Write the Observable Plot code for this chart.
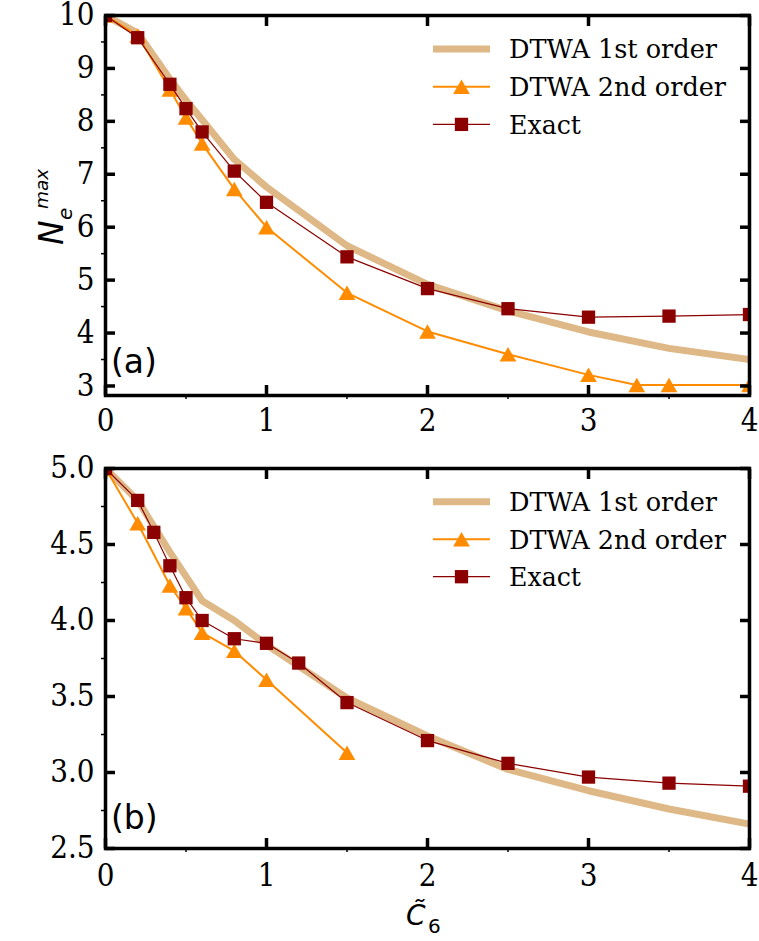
<!DOCTYPE html>
<html><head><meta charset="utf-8">
<script src="https://cdn.jsdelivr.net/npm/d3@7"></script>
<script src="https://cdn.jsdelivr.net/npm/@observablehq/plot@0.6"></script>
<style>
body{margin:0;background:#fff;}
#chart{position:relative;width:759px;height:941px;}
#chart svg{display:block;overflow:visible;}
</style></head><body><div id="chart"></div>
<script>
// ---- data: panel (a) N_e^max ----
const x_a_dtwa1 = [0, 0.2, 0.4, 0.5, 0.6, 0.8, 1.0, 1.5, 2.0, 2.5, 3.0, 3.5, 4.0];
const y_a_dtwa1 = [10, 9.67, 8.8, 8.4, 8.03, 7.28, 6.76, 5.65, 4.92, 4.42, 4.02, 3.71, 3.5];
const x_a_dtwa2 = [0, 0.2, 0.4, 0.5, 0.6, 0.8, 1.0, 1.5, 2.0, 2.5, 3.0, 3.3, 3.5, 4.0];
const y_a_dtwa2 = [10, 9.62, 8.6, 8.07, 7.58, 6.72, 6.0, 4.76, 4.03, 3.6, 3.21, 3.02, 3.02, 3.02];
const x_a_exact = [0, 0.2, 0.4, 0.5, 0.6, 0.8, 1.0, 1.5, 2.0, 2.5, 3.0, 3.5, 4.0];
const y_a_exact = [10, 9.58, 8.70, 8.24, 7.80, 7.06, 6.47, 5.44, 4.84, 4.46, 4.30, 4.32, 4.35];
// ---- data: panel (b) N_e^avg ----
const x_b_dtwa1 = [0, 0.2, 0.3, 0.4, 0.5, 0.6, 0.8, 1.0, 1.2, 1.5, 2.0, 2.5, 3.0, 3.5, 4.0];
const y_b_dtwa1 = [5.0, 4.79, 4.62, 4.45, 4.29, 4.13, 4.0, 3.84, 3.70, 3.49, 3.24, 3.02, 2.88, 2.76, 2.66];
const x_b_dtwa2 = [0, 0.2, 0.4, 0.5, 0.6, 0.8, 1.0, 1.5];
const y_b_dtwa2 = [5.0, 4.64, 4.23, 4.08, 3.92, 3.80, 3.61, 3.13];
const x_b_exact = [0, 0.2, 0.3, 0.4, 0.5, 0.6, 0.8, 1.0, 1.2, 1.5, 2.0, 2.5, 3.0, 3.5, 4.0];
const y_b_exact = [5.0, 4.79, 4.58, 4.36, 4.15, 4.0, 3.88, 3.85, 3.72, 3.46, 3.21, 3.06, 2.97, 2.93, 2.91];
// ---- ticks & labels ----
const xTicks = [0, 1, 2, 3, 4];
const xMinorTicks = [0.5, 1.5, 2.5, 3.5];
const yTicksA = [3, 4, 5, 6, 7, 8, 9, 10];
const yMinorA = [3.5, 4.5, 5.5, 6.5, 7.5, 8.5, 9.5];
const yTicksB = [2.5, 3.0, 3.5, 4.0, 4.5, 5.0];
const yMinorB = [2.75, 3.25, 3.75, 4.25, 4.75];
const seriesNames = ["DTWA 1st order", "DTWA 2nd order", "Exact"];
const legendWidths = [208, 217, 72];
const colors = ["#deb887", "#ff8c00", "#8b0000"];

const SERIF = "'DejaVu Serif Condensed', 'DejaVu Serif', serif";
const SANS = "'DejaVu Sans', sans-serif";
const zip = (xs, ys) => xs.map((x, i) => ({x, y: ys[i]}));
const R_SQ = 7.5, R_TRI = 6.2;

function panel(o) {
  const s1 = zip(o.x1, o.y1), s2 = zip(o.x2, o.y2), s3 = zip(o.x3, o.y3);
  const svg = Plot.plot({
    width: 759, height: o.height,
    marginLeft: 105, marginRight: 10, marginTop: o.mt, marginBottom: o.mb,
    style: {fontFamily: SERIF, fontSize: "31px", background: "white", color: "black"},
    x: {domain: [0, 4]},
    y: {domain: o.yDomain},
    marks: [
      Plot.line(s1, {x: "x", y: "y", stroke: colors[0], strokeWidth: 7, clip: true}),
      Plot.line(s2, {x: "x", y: "y", stroke: colors[1], strokeWidth: 2, clip: true}),
      Plot.dot(s2, {x: "x", y: "y", symbol: "triangle", r: R_TRI, fill: colors[1], dy: 2.4, clip: true}),
      Plot.line(s3, {x: "x", y: "y", stroke: colors[2], strokeWidth: 1.2, clip: true}),
      Plot.dot(s3, {x: "x", y: "y", symbol: "square", r: R_SQ, fill: colors[2], clip: true}),
      // tick labels
      Plot.axisY({ticks: o.yTicks, tickSize: 0, tickPadding: 11, tickFormat: o.yFormat, label: null, fontSize: 31, fontFamily: SERIF}),
      Plot.axisX({ticks: xTicks, tickSize: 0, tickPadding: o.xPad, tickFormat: d3.format("d"), label: null, fontSize: 31, fontFamily: SERIF}),
      // major inward ticks
      Plot.axisY({ticks: o.yTicks, tickSize: 10, dx: 10, strokeWidth: 3.5, fill: "none", label: null}),
      Plot.axisY({anchor: "right", ticks: o.yTicks, tickSize: 10, dx: -10, strokeWidth: 3.5, fill: "none", label: null}),
      Plot.axisX({ticks: xTicks, tickSize: 10, dy: -10, strokeWidth: 3.5, fill: "none", label: null}),
      Plot.axisX({anchor: "top", ticks: xTicks, tickSize: 10, dy: 10, strokeWidth: 3.5, fill: "none", label: null}),
      // minor outward ticks
      Plot.axisY({ticks: o.yMinor, tickSize: 4, strokeWidth: 1.5, fill: "none", label: null}),
      Plot.axisX({ticks: xMinorTicks, tickSize: 4, strokeWidth: 1.5, fill: "none", label: null}),
      Plot.frame({stroke: "black", strokeWidth: 3.5})
    ]
  });
  const S = d3.select(svg);
  // legend
  const lg = S.append("g").attr("text-anchor", "start");
  seriesNames.forEach((name, i) => {
    const cy = o.legendY + i * o.legendStep;
    lg.append("line").attr("x1", 433).attr("x2", 490).attr("y1", cy).attr("y2", cy)
      .attr("stroke", colors[i]).attr("stroke-width", [7, 2, 1.2][i]);
    if (i === 1) lg.append("path").attr("d", d3.symbol(d3.symbolTriangle, Math.PI * R_TRI * R_TRI)())
      .attr("transform", `translate(461.5,${cy + 2.4})`).attr("fill", colors[1]);
    if (i === 2) lg.append("path").attr("d", d3.symbol(d3.symbolSquare, Math.PI * R_SQ * R_SQ)())
      .attr("transform", `translate(461.5,${cy})`).attr("fill", colors[2]);
    lg.append("text").attr("x", 509).attr("y", cy + 9.3).attr("font-family", SERIF)
      .attr("font-size", 25.5).attr("fill", "black")
      .attr("textLength", legendWidths[i]).attr("lengthAdjust", "spacingAndGlyphs").text(name);
  });
  // panel label
  S.append("text").attr("x", 111).attr("y", o.panelY).attr("font-family", SANS).attr("text-anchor", "start")
    .attr("font-size", 33).attr("fill", "black").text(o.panelLabel);
  // y label (rotated, N with subscript e and superscript)
  const g = S.append("g").attr("transform", `translate(${o.ylx},${o.yly}) rotate(-90)`)
    .attr("font-family", SANS).attr("font-style", "italic").attr("fill", "black").attr("text-anchor", "start");
  g.append("text").attr("x", o.nOff).attr("y", 0).attr("font-size", 33).text("N");
  g.append("text").attr("x", o.nOff + 25).attr("y", 9).attr("font-size", 20).text("e");
  g.append("text").attr("x", o.nOff + 36).attr("y", -15).attr("font-size", 18.5).text(o.sup);
  return svg;
}

const root = document.getElementById("chart");
root.appendChild(panel({
  height: 440, mt: 15, mb: 45, yDomain: [2.82, 10], yTicks: yTicksA, yMinor: yMinorA,
  yFormat: d3.format("d"), xPad: 13,
  x1: x_a_dtwa1, y1: y_a_dtwa1, x2: x_a_dtwa2, y2: y_a_dtwa2, x3: x_a_exact, y3: y_a_exact,
  legendY: 49, legendStep: 37.7, panelLabel: "(a)", panelY: 373,
  ylx: 63, yly: 207, nOff: -38, sup: "max"
}));
const bottom = panel({
  height: 501, mt: 28, mb: 93, yDomain: [2.5, 5], yTicks: yTicksB, yMinor: yMinorB,
  yFormat: d3.format(".1f"), xPad: 15,
  x1: x_b_dtwa1, y1: y_b_dtwa1, x2: x_b_dtwa2, y2: y_b_dtwa2, x3: x_b_exact, y3: y_b_exact,
  legendY: 61.7, legendStep: 37.5, panelLabel: "(b)", panelY: 389,
  ylx: 42, yly: 659, nOff: -36, sup: "avg"
});
// x label
const B = d3.select(bottom);
const xl = B.append("g").attr("text-anchor", "start").attr("fill", "black").attr("font-family", SANS);
xl.append("text").attr("x", 406).attr("y", 485).attr("font-style", "italic")
  .attr("font-size", 28).text("C\u0303");
xl.append("text").attr("x", 428).attr("y", 493).attr("font-size", 20).text("6");
root.appendChild(bottom);
</script></body></html>
